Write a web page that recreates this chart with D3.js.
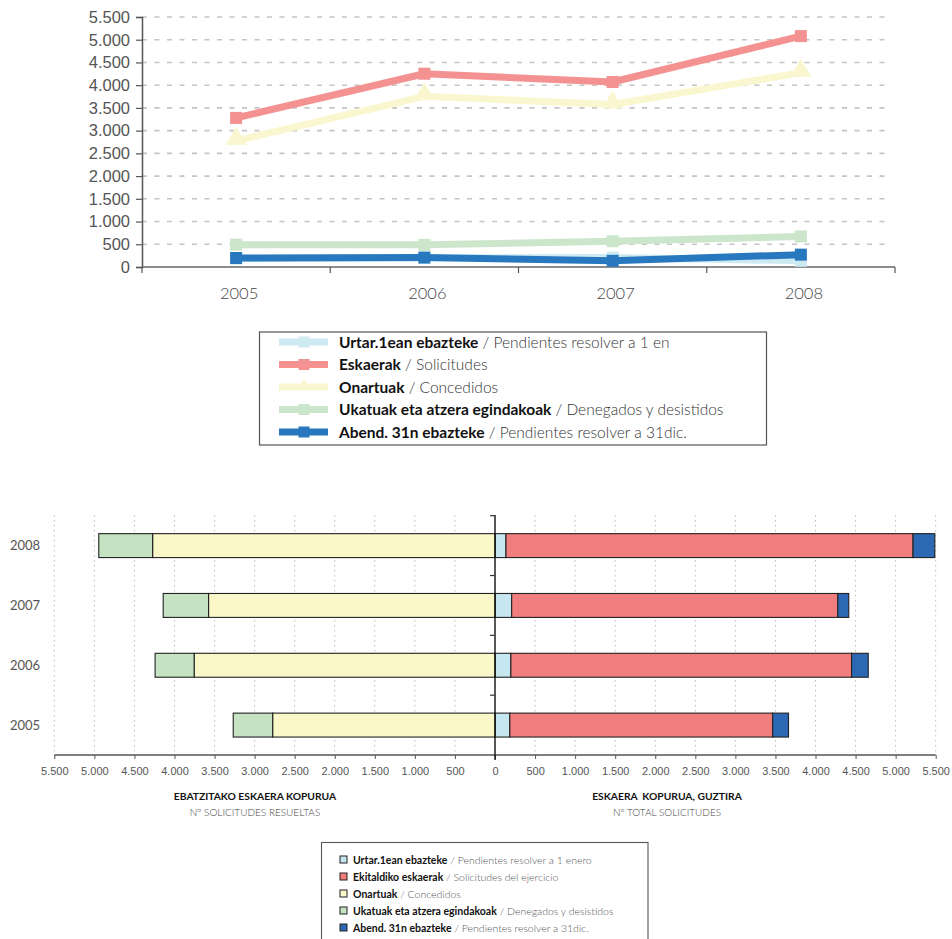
<!DOCTYPE html>
<html><head><meta charset="utf-8">
<script src="https://cdn.jsdelivr.net/npm/d3@7"></script>
<style>
body{margin:0;background:#fff;}
svg{display:block;font-family:Lato,"Open Sans",sans-serif;}
</style></head>
<body><svg id="c" width="952" height="939"></svg>
<script>
// ---- data ----
const years = ["2005", "2006", "2007", "2008"];
const pendientesInicio = [185, 198, 208, 137];   // Urtar.1ean ebazteke
const solicitudes = [3280, 4252, 4070, 5080];    // Eskaerak / Ekitaldiko eskaerak
const concedidos = [2775, 3755, 3575, 4273];     // Onartuak
const denegados = [492, 487, 566, 672];          // Ukatuak eta atzera egindakoak
const pendientesFin = [198, 208, 137, 272];      // Abend. 31n ebazteke
const yTicksTop = [0, 500, 1000, 1500, 2000, 2500, 3000, 3500, 4000, 4500, 5000, 5500];
const xTicksBottom = [-5500, -5000, -4500, -4000, -3500, -3000, -2500, -2000, -1500, -1000, -500, 0, 500, 1000, 1500, 2000, 2500, 3000, 3500, 4000, 4500, 5000, 5500];

const topLegendBold = ["Urtar.1ean ebazteke", "Eskaerak", "Onartuak", "Ukatuak eta atzera egindakoak", "Abend. 31n ebazteke"];
const topLegendLight = ["Pendientes resolver a 1 en", "Solicitudes", "Concedidos", "Denegados y desistidos", "Pendientes resolver a 31dic."];
const botLegendBold = ["Urtar.1ean ebazteke", "Ekitaldiko eskaerak", "Onartuak", "Ukatuak eta atzera egindakoak", "Abend. 31n ebazteke"];
const botLegendLight = ["Pendientes resolver a 1 enero", "Solicitudes del ejercicio", "Concedidos", "Denegados y desistidos", "Pendientes resolver a 31dic."];

const lineColors = ["#CDEAF2", "#F49191", "#FAF7D0", "#CCE6CB", "#2878C0"];
const barColors = ["#C6E7F0", "#F17E7F", "#FAF7C8", "#C5E3C3", "#2C68B4"];

const fmt = d3.formatLocale({decimal: ",", thousands: ".", grouping: [3], currency: ["", ""]}).format(",d");
const svg = d3.select("#c");

// ================= TOP LINE CHART =================
const yT = d3.scaleLinear().domain([0, 5500]).range([267, 17]);
const xT = d3.scaleBand().domain(years).range([142, 895]).padding(0);
const gT = svg.append("g");

// grid
gT.append("g").selectAll("line").data(yTicksTop.filter(d => d > 0)).join("line")
  .attr("x1", 142).attr("x2", 890).attr("y1", d => yT(d)).attr("y2", d => yT(d))
  .attr("stroke", "#c4c4c4").attr("stroke-width", 1.6).attr("stroke-dasharray", "5,7.5");

// y axis
const yAxT = gT.append("g").attr("transform", "translate(142,0)")
  .call(d3.axisLeft(yT).tickValues(yTicksTop).tickSize(6).tickPadding(6).tickFormat(fmt));
yAxT.select(".domain").attr("stroke", "#555").attr("stroke-width", 1.5);
yAxT.selectAll(".tick line").attr("stroke", "#555").attr("stroke-width", 1.2);
yAxT.selectAll("text").attr("fill", "#555").attr("font-size", 16.5).attr("font-weight", 400);

// x axis
gT.append("line").attr("x1", 142).attr("x2", 895).attr("y1", 267).attr("y2", 267)
  .attr("stroke", "#666").attr("stroke-width", 1.5);
const bounds = years.map(y => xT(y)).concat([xT(years[years.length - 1]) + xT.bandwidth()]);
gT.append("g").selectAll("line").data(bounds).join("line")
  .attr("x1", d => d).attr("x2", d => d).attr("y1", 267).attr("y2", 273)
  .attr("stroke", "#555").attr("stroke-width", 1.2);
gT.append("g").selectAll("text").data(years).join("text")
  .attr("x", d => xT(d) + xT.bandwidth() / 2 + 3).attr("y", 299)
  .attr("text-anchor", "middle").attr("fill", "#444").attr("font-size", 16.5).attr("font-weight", 300)
  .text(d => d);

// lines
const seriesTop = [pendientesInicio, solicitudes, concedidos, denegados, pendientesFin];
const lineGen = d3.line().x((d, i) => xT(years[i]) + xT.bandwidth() / 2).y(d => yT(d));
const tri = d3.symbol().type(d3.symbolTriangle).size(190);
seriesTop.forEach((s, k) => {
  gT.append("path").datum(s).attr("d", lineGen).attr("fill", "none")
    .attr("stroke", lineColors[k]).attr("stroke-width", 7).attr("stroke-linejoin", "round");
  const pts = gT.append("g").selectAll("g").data(s).join("g")
    .attr("transform", (d, i) => `translate(${xT(years[i]) + xT.bandwidth() / 2},${yT(d)})`);
  if (k === 2) {
    pts.append("path").attr("d", tri).attr("fill", lineColors[k]).attr("transform", "translate(0,-2)");
  } else {
    pts.append("rect").attr("x", -6).attr("y", -6).attr("width", 12).attr("height", 12).attr("fill", lineColors[k]);
  }
});

// top legend
const lgT = svg.append("g");
lgT.append("rect").attr("x", 259.5).attr("y", 332).attr("width", 507).attr("height", 113)
  .attr("fill", "#fff").attr("stroke", "#555").attr("stroke-width", 1.2);
topLegendBold.forEach((b, i) => {
  const y = 342 + i * 22.5;
  lgT.append("line").attr("x1", 279).attr("x2", 328).attr("y1", y).attr("y2", y)
    .attr("stroke", lineColors[i]).attr("stroke-width", 7);
  if (i === 2) {
    lgT.append("path").attr("d", d3.symbol().type(d3.symbolTriangle).size(80)).attr("fill", lineColors[i])
      .attr("transform", `translate(304,${y - 1})`);
  } else {
    lgT.append("rect").attr("x", 298.5).attr("y", y - 5.5).attr("width", 11).attr("height", 11).attr("fill", lineColors[i]);
  }
  const t = lgT.append("text").attr("x", 339).attr("y", y + 5.5).attr("font-size", 15.5);
  t.append("tspan").attr("font-weight", 700).attr("fill", "#111").text(b);
  t.append("tspan").attr("font-weight", 300).attr("fill", "#333").text(" / " + topLegendLight[i]);
});

// ================= BOTTOM BAR CHART =================
const xB = d3.scaleLinear().domain([-5500, 5500]).range([54.3, 935.7]);
const yB = d3.scaleBand().domain(years.slice().reverse()).range([515.7, 755]).paddingInner(0.6).paddingOuter(0.3);
const gB = svg.append("g");

// grid
gB.append("g").selectAll("line").data(xTicksBottom.filter(d => d !== 0)).join("line")
  .attr("x1", d => xB(d)).attr("x2", d => xB(d)).attr("y1", 515).attr("y2", 755)
  .attr("stroke", "#bdbdbd").attr("stroke-width", 1).attr("stroke-dasharray", "1.5,3.5");

// stacked bars
const rows = years.map((y, i) => ({
  year: y,
  segs: [
    {x0: 0, x1: pendientesInicio[i], c: 0},
    {x0: pendientesInicio[i], x1: pendientesInicio[i] + solicitudes[i], c: 1},
    {x0: pendientesInicio[i] + solicitudes[i], x1: pendientesInicio[i] + solicitudes[i] + pendientesFin[i], c: 4},
    {x0: -concedidos[i], x1: 0, c: 2},
    {x0: -concedidos[i] - denegados[i], x1: -concedidos[i], c: 3}
  ]
}));
gB.append("g").selectAll("g").data(rows).join("g")
  .attr("transform", d => `translate(0,${yB(d.year)})`)
  .selectAll("rect").data(d => d.segs).join("rect")
  .attr("x", d => xB(d.x0)).attr("width", d => xB(d.x1) - xB(d.x0))
  .attr("y", 0).attr("height", yB.bandwidth())
  .attr("fill", d => barColors[d.c]).attr("stroke", "#222").attr("stroke-width", 1.1);

// x axis
const xAxB = gB.append("g").attr("transform", "translate(0,755)")
  .call(d3.axisBottom(xB).tickValues(xTicksBottom).tickSize(4).tickPadding(8).tickFormat(d => fmt(Math.abs(d))));
xAxB.select(".domain").attr("stroke", "#555").attr("stroke-width", 1.3).attr("d", `M${xB(-5500)},0H${xB(5500)}`);
xAxB.selectAll(".tick line").attr("stroke", "#555");
xAxB.selectAll("text").attr("fill", "#555").attr("font-size", 11).attr("font-weight", 300);

// y axis at zero
gB.append("line").attr("x1", xB(0)).attr("x2", xB(0)).attr("y1", 515).attr("y2", 760)
  .attr("stroke", "#111").attr("stroke-width", 1.4);
gB.append("g").selectAll("line").data(years.slice().reverse()).join("line")
  .attr("x1", xB(0) - 5).attr("x2", xB(0))
  .attr("y1", d => yB(d) + yB.bandwidth() / 2 - yB.step() / 2).attr("y2", d => yB(d) + yB.bandwidth() / 2 - yB.step() / 2)
  .attr("stroke", "#333").attr("stroke-width", 1.2);
gB.append("g").selectAll("text").data(years).join("text")
  .attr("x", 10).attr("y", d => yB(d) + yB.bandwidth() / 2 + 4.5)
  .attr("fill", "#555").attr("font-size", 13).attr("font-weight", 400).text(d => d);

// axis titles
const titles = [
  {x: 255, b: "EBATZITAKO ESKAERA KOPURUA", l: "Nº SOLICITUDES RESUELTAS"},
  {x: 667, b: "ESKAERA  KOPURUA, GUZTIRA", l: "Nº TOTAL SOLICITUDES"}
];
titles.forEach(t => {
  gB.append("text").attr("x", t.x).attr("y", 800).attr("text-anchor", "middle")
    .attr("font-size", 10.3).attr("font-weight", 700).attr("fill", "#111").attr("xml:space", "preserve").text(t.b);
  gB.append("text").attr("x", t.x).attr("y", 816).attr("text-anchor", "middle")
    .attr("font-size", 10).attr("font-weight", 300).attr("fill", "#444").text(t.l);
});

// bottom legend
const lgB = svg.append("g");
lgB.append("rect").attr("x", 321.5).attr("y", 842.5).attr("width", 326.5).attr("height", 110)
  .attr("fill", "#fff").attr("stroke", "#555").attr("stroke-width", 1.1);
botLegendBold.forEach((b, i) => {
  const y = 860 + i * 17;
  lgB.append("rect").attr("x", 340).attr("y", y - 4).attr("width", 7).attr("height", 7)
    .attr("fill", barColors[i]).attr("stroke", "#222").attr("stroke-width", 1);
  const t = lgB.append("text").attr("x", 353).attr("y", y + 3.5).attr("font-size", 10.5);
  t.append("tspan").attr("font-weight", 700).attr("fill", "#111").text(b);
  t.append("tspan").attr("font-weight", 300).attr("fill", "#555").text(" / " + botLegendLight[i]);
});
</script></body></html>
